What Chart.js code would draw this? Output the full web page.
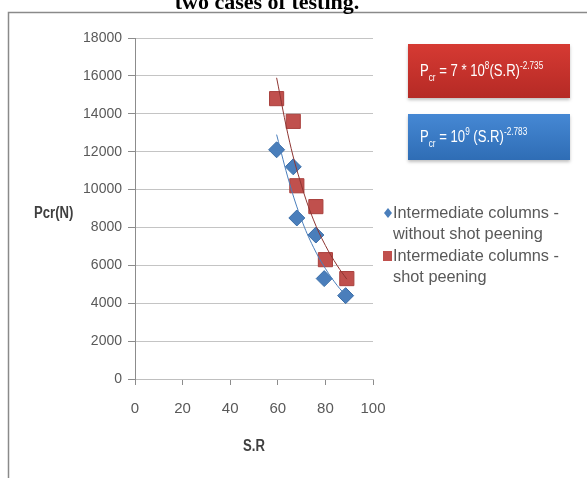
<!DOCTYPE html>
<html>
<head>
<meta charset="utf-8">
<script src="https://cdn.jsdelivr.net/npm/chart.js@4.4.1/dist/chart.umd.min.js"></script>
<style>
  html, body { margin: 0; padding: 0; background: #fff; }
  #wrap { position: absolute; left: 0; top: 0; width: 587px; height: 478px; }
</style>
</head>
<body>
<div id="wrap"><canvas id="c" width="587" height="478"></canvas></div>
<script>
// Slenderness ratio (S.R) and critical load Pcr (N) for the two test cases
const srWithout  = [59.5, 66.5, 68, 76, 79.5, 88.5];
const pcrWithout = [12100, 11200, 8500, 7600, 5300, 4400];
const srShot     = [59.5, 66.5, 68, 76, 80, 89];
const pcrShot    = [14800, 13600, 10200, 9100, 6300, 5300];

// Power trendlines (sampled along the fitted curves)
const trendSR      = [59.5, 65, 70, 75, 80, 85, 89];
const trendWithout = [12900, 10300, 8400, 6950, 5830, 4930, 4350];
const trendShot    = [15900, 12500, 10200, 8400, 7050, 5980, 5270];

const xTicks = [0, 20, 40, 60, 80, 100];
const yTicks = [0, 2000, 4000, 6000, 8000, 10000, 12000, 14000, 16000, 18000];

const seriesNames = [
  ['Intermediate columns -', 'without shot peening'],
  ['Intermediate columns -', 'shot peening']
];
const caption = 'two cases of testing.';
const xTitle = 'S.R';
const yTitle = 'Pcr(N)';

const SANS = '"Liberation Sans Narrow", "Arial Narrow", "Liberation Sans", sans-serif';
const BLUE = '#4a7ebb';
const RED = '#c0504d';

function pts(xs, ys) { return xs.map((x, i) => ({ x: x, y: ys[i] })); }

// Text squeezed horizontally to give a condensed face
function narrowText(ctx, text, x, y, sx) {
  ctx.save();
  ctx.translate(x, y);
  ctx.scale(sx, 1);
  ctx.fillText(text, 0, 0);
  const w = ctx.measureText(text).width * sx;
  ctx.restore();
  return w;
}

// Draws a run of text with sub/superscript pieces
function richText(ctx, x, y, parts, size, sx) {
  ctx.textAlign = 'left';
  ctx.textBaseline = 'alphabetic';
  for (const p of parts) {
    const fs = p.s === 0 ? size : Math.round(size * 0.6);
    const dy = p.s === 0 ? 0 : (p.s < 0 ? size * 0.3 : -size * 0.42);
    ctx.font = fs + 'px ' + SANS;
    x += narrowText(ctx, p.t, x, y + dy, sx);
  }
  return x;
}

function equationBox(ctx, x, y, w, h, top, bottom, parts) {
  ctx.save();
  ctx.shadowColor = 'rgba(0,0,0,0.25)';
  ctx.shadowBlur = 3;
  ctx.shadowOffsetY = 2;
  const g = ctx.createLinearGradient(0, y, 0, y + h);
  g.addColorStop(0, top);
  g.addColorStop(1, bottom);
  ctx.fillStyle = g;
  ctx.fillRect(x, y, w, h);
  ctx.restore();
  ctx.fillStyle = '#ffffff';
  richText(ctx, x + 12, y + h / 2 + 5, parts, 16, 0.82);
}

const decorations = {
  id: 'decorations',
  beforeDraw(chart) {
    const ctx = chart.ctx;
    ctx.save();
    ctx.strokeStyle = '#8a8a8a';
    ctx.lineWidth = 1.5;
    ctx.beginPath();
    ctx.moveTo(8.5, 478);
    ctx.lineTo(8.5, 12.5);
    ctx.lineTo(587, 12.5);
    ctx.stroke();
    ctx.restore();
  },
  afterDraw(chart) {
    const ctx = chart.ctx;
    const area = chart.chartArea;
    ctx.save();

    // caption line above the frame
    ctx.fillStyle = '#000';
    ctx.font = 'bold 22px "Liberation Serif", "Times New Roman", serif';
    ctx.textAlign = 'center';
    ctx.textBaseline = 'alphabetic';
    ctx.fillText(caption, 267, 9);

    // axis titles
    ctx.fillStyle = '#404040';
    ctx.font = 'bold 16px ' + SANS;
    ctx.textAlign = 'left';
    ctx.textBaseline = 'middle';
    narrowText(ctx, yTitle, 34, 214, 0.82);
    const xw = ctx.measureText(xTitle).width * 0.82;
    narrowText(ctx, xTitle, (area.left + area.right) / 2 - xw / 2, 447, 0.82);

    // fitted equations
    equationBox(ctx, 408, 44, 162, 54, '#d63a33', '#b52a25', [
      { t: 'P', s: 0 }, { t: 'cr', s: -1 }, { t: ' = 7 * 10', s: 0 },
      { t: '8', s: 1 }, { t: '(S.R)', s: 0 }, { t: '-2.735', s: 1 }
    ]);
    equationBox(ctx, 408, 114, 162, 46, '#4688d4', '#2f6db5', [
      { t: 'P', s: 0 }, { t: 'cr', s: -1 }, { t: ' = 10', s: 0 },
      { t: '9', s: 1 }, { t: ' (S.R)', s: 0 }, { t: '-2.783', s: 1 }
    ]);

    // legend
    ctx.font = '17px ' + SANS;
    ctx.fillStyle = '#595959';
    ctx.textAlign = 'left';
    ctx.textBaseline = 'middle';
    const lx = 387, ly = [213, 234, 256, 277];
    narrowText(ctx, seriesNames[0][0], lx + 6, ly[0], 0.96);
    narrowText(ctx, seriesNames[0][1], lx + 6, ly[1], 0.96);
    narrowText(ctx, seriesNames[1][0], lx + 6, ly[2], 0.96);
    narrowText(ctx, seriesNames[1][1], lx + 6, ly[3], 0.96);
    // diamond marker
    ctx.fillStyle = BLUE;
    ctx.beginPath();
    ctx.moveTo(lx + 1, ly[0] - 5);
    ctx.lineTo(lx + 5, ly[0]);
    ctx.lineTo(lx + 1, ly[0] + 5);
    ctx.lineTo(lx - 3, ly[0]);
    ctx.closePath();
    ctx.fill();
    // square marker
    ctx.fillStyle = RED;
    ctx.fillRect(lx - 4, ly[2] - 5, 9, 10);

    ctx.restore();
  }
};

new Chart(document.getElementById('c'), {
  type: 'scatter',
  data: {
    datasets: [
      {
        label: seriesNames[0].join(' '),
        data: pts(srWithout, pcrWithout),
        pointStyle: 'rectRot',
        pointRadius: 8,
        backgroundColor: BLUE,
        borderColor: '#3b6ea8',
        borderWidth: 1,
        order: 2
      },
      {
        label: seriesNames[1].join(' '),
        data: pts(srShot, pcrShot),
        pointStyle: 'rect',
        pointRadius: 10,
        backgroundColor: RED,
        borderColor: '#a9403d',
        borderWidth: 1,
        order: 1
      },
      {
        label: 'Power (without shot peening)',
        data: pts(trendSR, trendWithout),
        showLine: true,
        pointRadius: 0,
        borderColor: '#4a7ebb',
        borderWidth: 1,
        tension: 0.4,
        order: 0
      },
      {
        label: 'Power (shot peening)',
        data: pts(trendSR, trendShot),
        showLine: true,
        pointRadius: 0,
        borderColor: '#8e3532',
        borderWidth: 1,
        tension: 0.4,
        order: 0
      }
    ]
  },
  options: {
    responsive: false,
    animation: false,
    devicePixelRatio: 1,
    layout: { padding: { left: 0, top: 38, right: 214, bottom: 39 } },
    plugins: { legend: { display: false }, tooltip: { enabled: false }, title: { display: false } },
    scales: {
      x: {
        type: 'linear',
        min: 0, max: 100,
        afterBuildTicks(s) { s.ticks = xTicks.map(v => ({ value: v })); },
        afterFit(s) { s.height = 60; },
        grid: { drawOnChartArea: false, color: '#8c8c8c', tickLength: 6 },
        border: { display: true, color: '#bfbfbf' },
        ticks: { color: '#595959', padding: 15, font: { family: SANS, size: 15 }, callback: v => String(v) }
      },
      y: {
        type: 'linear',
        min: 0, max: 18000,
        afterBuildTicks(s) { s.ticks = yTicks.map(v => ({ value: v })); },
        afterFit(s) { s.width = 135; },
        grid: { color: '#c4c4c4', tickColor: '#8c8c8c', tickLength: 7 },
        border: { display: true, color: '#8c8c8c' },
        ticks: { color: '#595959', padding: 6, font: { family: SANS, size: 14 }, callback: v => String(v) }
      }
    }
  },
  plugins: [decorations]
});
</script>
</body>
</html>
